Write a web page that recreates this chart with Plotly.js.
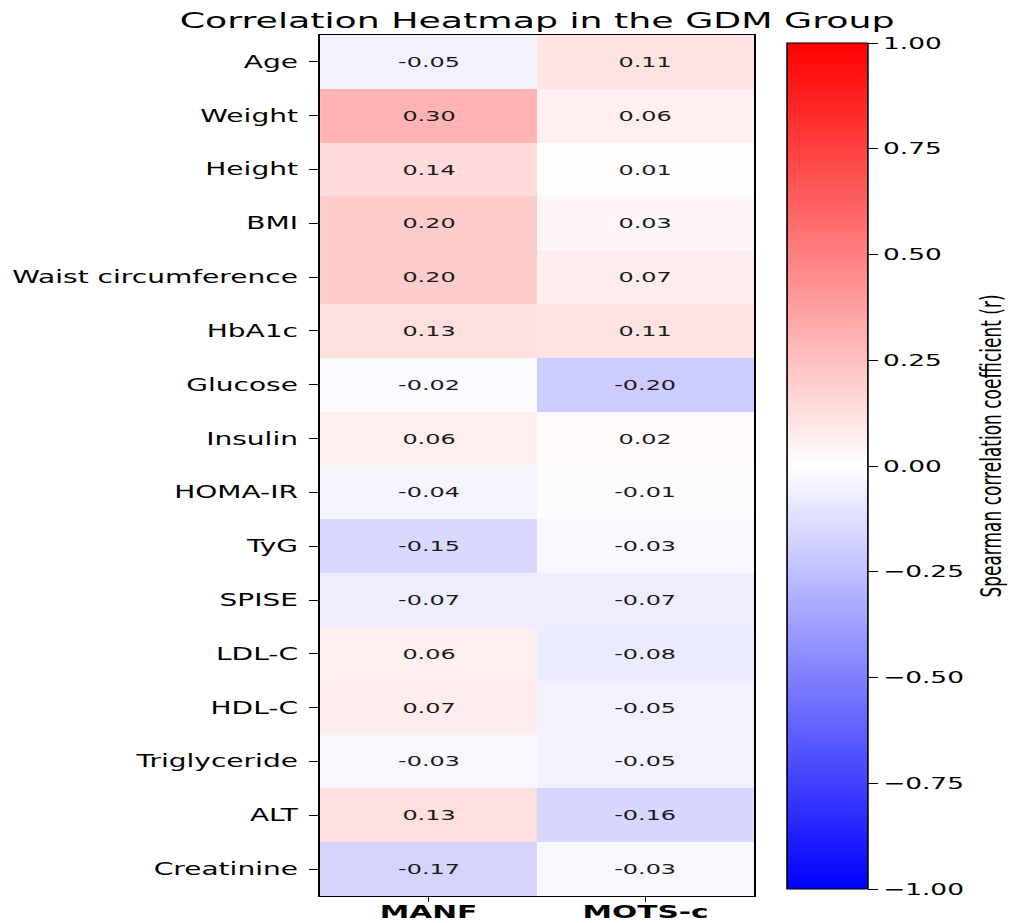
<!DOCTYPE html>
<html>
<head>
<meta charset="utf-8">
<script src="https://cdn.plot.ly/plotly-3.0.1.min.js"></script>
<style>
  html, body { margin: 0; padding: 0; background: #fff; overflow: hidden; }
  #wrap { width: 1011px; height: 923px; overflow: hidden; }
  #plot { width: 613px; height: 923px; transform: scaleX(1.65); transform-origin: 0 0; }
</style>
</head>
<body>
<div id="wrap"><div id="plot"></div></div>
<script>
const variables = ["Age", "Weight", "Height", "BMI", "Waist circumference", "HbA1c", "Glucose",
  "Insulin", "HOMA-IR", "TyG", "SPISE", "LDL-C", "HDL-C", "Triglyceride", "ALT", "Creatinine"];
const markers = ["MANF", "MOTS-c"];
const manf  = [-0.05, 0.30, 0.14, 0.20, 0.20, 0.13, -0.02, 0.06, -0.04, -0.15, -0.07, 0.06, 0.07, -0.03, 0.13, -0.17];
const motsc = [0.11, 0.06, 0.01, 0.03, 0.07, 0.11, -0.20, 0.02, -0.01, -0.03, -0.07, -0.08, -0.05, -0.05, -0.16, -0.03];
const colorbarTicks = [1.00, 0.75, 0.50, 0.25, 0.00, -0.25, -0.50, -0.75, -1.00];
const colorbarLabel = "Spearman correlation coefficient (r)";

const z = variables.map((v, i) => [manf[i], motsc[i]]);
const txt = z.map(r => r.map(v => v.toFixed(2)));

const FONT = "DejaVu Sans, Verdana, sans-serif";

const trace = {
  type: "heatmap",
  x: markers,
  y: variables,
  z: z,
  text: txt,
  texttemplate: "%{text}",
  textfont: { family: FONT, size: 14.5, color: "#1a1a1a" },
  zmin: -1, zmax: 1,
  colorscale: [[0, "rgb(0,0,255)"], [0.5, "rgb(255,255,255)"], [1, "rgb(255,0,0)"]],
  xgap: 0, ygap: 0,
  hoverinfo: "skip",
  colorbar: {
    x: 1.076, xanchor: "left", xref: "paper",
    y: 0.4994, yanchor: "middle",
    lenmode: "pixels", len: 846,
    thicknessmode: "pixels", thickness: 49,
    xpad: 0, ypad: 0,
    outlinewidth: 1, outlinecolor: "#000",
    tickmode: "array", tickvals: colorbarTicks,
    ticktext: colorbarTicks.map(v => (v < 0 ? "\u2212" + Math.abs(v).toFixed(2) : v.toFixed(2))),
    ticks: "outside", ticklen: 6, tickwidth: 1, tickcolor: "#000",
    tickfont: { family: FONT, size: 16, color: "#000" },
    title: { text: "" }
  }
};

const layout = {
  width: 613, height: 923,
  margin: { l: 194, r: 156, t: 35, b: 27, pad: 0 },
  paper_bgcolor: "#fff", plot_bgcolor: "#fff",
  title: { text: "Correlation Heatmap in the GDM Group", x: 0.5, xref: "paper",
           y: 1 - 20 / 923, yref: "container", yanchor: "middle",
           font: { family: FONT, size: 22, color: "#000" } },
  xaxis: {
    type: "category", showline: true, mirror: true, linecolor: "#000", linewidth: 1,
    ticks: "outside", ticklen: 5, tickcolor: "#000", ticklabelstandoff: -6,
    tickfont: { family: FONT, size: 18, color: "#000", weight: "bold" },
    showgrid: false, zeroline: false, fixedrange: true
  },
  yaxis: {
    type: "category", autorange: "reversed", showline: true, mirror: true,
    linecolor: "#000", linewidth: 1,
    ticks: "outside", ticklen: 6, tickcolor: "#000", ticklabelstandoff: 3,
    tickfont: { family: FONT, size: 17, color: "#000" },
    showgrid: false, zeroline: false, fixedrange: true
  },
  annotations: [{
    text: colorbarLabel, textangle: -90, showarrow: false,
    xref: "paper", yref: "paper", x: 1.546, y: 0.5226,
    xanchor: "center", yanchor: "middle",
    font: { family: FONT, size: 17, color: "#000" }
  }],
  font: { family: FONT, color: "#000" }
};

Plotly.newPlot("plot", [trace], layout, { displayModeBar: false, staticPlot: true });
</script>
</body>
</html>
